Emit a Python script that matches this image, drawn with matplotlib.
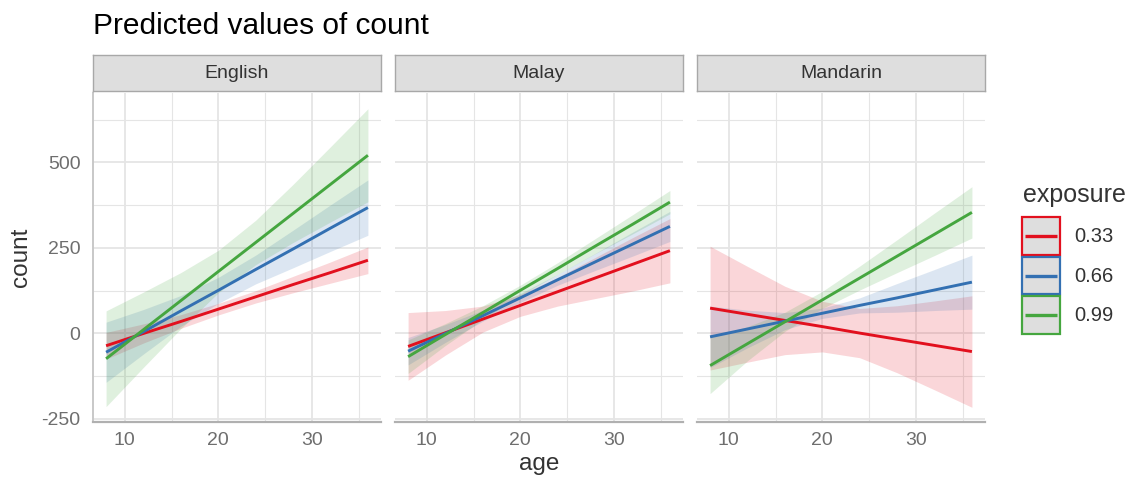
import numpy as np
import matplotlib.pyplot as plt
from matplotlib.lines import Line2D
from matplotlib.patches import Rectangle
from matplotlib.ticker import MultipleLocator

plt.rcParams['font.family'] = ['Liberation Sans', 'DejaVu Sans']
plt.rcParams['axes.unicode_minus'] = False

# ---- data ----
ages = [8, 12, 16, 20, 24, 28, 32, 36]
languages = ["English", "Malay", "Mandarin"]
exposure_levels = ["0.33", "0.66", "0.99"]
colors = ["#E2101E", "#3370B2", "#45A63F"]

# predicted counts (rows: exposure 0.33 / 0.66 / 0.99) and CI half-widths
english_pred = [
    [-36, 0, 35, 71, 107, 143, 178, 214],
    [-55, 5, 66, 126, 187, 247, 308, 368],
    [-74, 11, 96, 181, 266, 351, 436, 521],
]
english_ci = [
    [39, 28, 20, 17, 18, 24, 31, 39],
    [88, 65, 45, 38, 42, 55, 68, 81],
    [140, 110, 82, 62, 65, 85, 110, 136],
]
malay_pred = [
    [-38, 2, 42, 82, 122, 162, 202, 242],
    [-52, 0, 52, 104, 157, 209, 261, 313],
    [-68, -3, 61, 126, 190, 255, 319, 384],
]
malay_ci = [
    [99, 65, 38, 32, 42, 60, 78, 94],
    [40, 26, 16, 13, 16, 25, 35, 44],
    [49, 32, 20, 15, 17, 22, 28, 34],
]
mandarin_pred = [
    [74, 56, 38, 20, 1, -17, -35, -53],
    [-10, 13, 36, 59, 82, 104, 127, 150],
    [-94, -30, 34, 98, 162, 226, 290, 354],
]
mandarin_ci = [
    [181, 140, 100, 74, 72, 98, 130, 163],
    [90, 55, 25, 15, 22, 42, 60, 79],
    [82, 50, 28, 25, 35, 48, 62, 75],
]

preds = [english_pred, malay_pred, mandarin_pred]
cis = [english_ci, malay_ci, mandarin_ci]


class BoxedLineHandler:
    """Legend key: grey box with a coloured border and a short line inside."""

    def legend_artist(self, legend, orig_handle, fontsize, handlebox):
        x0, y0 = -handlebox.xdescent, -handlebox.ydescent
        w, h = handlebox.width, handlebox.height
        c = orig_handle.get_color()
        box = Rectangle((x0, y0), w, h, facecolor="#DEDEDE", edgecolor=c,
                        lw=1.6, transform=handlebox.get_transform())
        line = Line2D([x0 + 0.09 * w, x0 + 0.91 * w], [y0 + h / 2, y0 + h / 2],
                      color=c, lw=2.4, solid_capstyle="butt",
                      transform=handlebox.get_transform())
        handlebox.add_artist(box)
        handlebox.add_artist(line)
        return box


# ---- layout ----
fig = plt.figure(figsize=(11.3, 4.83), dpi=100)
lefts = [93 / 1130, 395 / 1130, 697 / 1130]
width = 288 / 1130
bottom = 1 - 422 / 483
height = (422 - 92.7) / 483
strip_bottom = 1 - 91 / 483
strip_height = 36 / 483

grid_col = "#E5E5E5"
tick_col = "#6E6E6E"
text_col = "#333333"

for i, lang in enumerate(languages):
    ax = fig.add_axes([lefts[i], bottom, width, height])
    x = np.array(ages)
    for j in range(3):
        y = np.array(preds[i][j])
        h = np.array(cis[i][j])
        ax.fill_between(x, y - h, y + h, color=colors[j], alpha=0.17,
                        linewidth=0, zorder=2)
    for j in range(3):
        ax.plot(ages, preds[i][j], color=colors[j], lw=2.1, zorder=3,
                solid_capstyle="butt")

    ax.set_xlim(6.6, 37.4)
    ax.set_ylim(-259, 704)
    ax.xaxis.set_minor_locator(MultipleLocator(5))
    ax.yaxis.set_major_locator(MultipleLocator(250))
    ax.yaxis.set_minor_locator(MultipleLocator(125))
    ax.set_xticks([10, 20, 30])
    ax.grid(which="major", color=grid_col, lw=1.3, zorder=0)
    ax.grid(which="minor", color=grid_col, lw=0.8, zorder=0)
    ax.set_axisbelow(True)
    ax.tick_params(which="both", length=0, labelsize=14, colors=tick_col)
    ax.tick_params(axis="y", pad=9)
    ax.tick_params(axis="x", pad=7)
    for s in ["top", "right"]:
        ax.spines[s].set_visible(False)
    ax.spines["bottom"].set_color("#B0B0B0")
    ax.spines["bottom"].set_linewidth(1.6)
    if i == 0:
        ax.spines["left"].set_color("#C8C8C8")
        ax.spines["left"].set_linewidth(1.4)
        ax.set_ylabel("count", fontsize=17.5, color=text_col, labelpad=7)
    else:
        ax.spines["left"].set_visible(False)
        ax.set_yticklabels([])
    if i == 1:
        ax.set_xlabel("age", fontsize=17.5, color=text_col, labelpad=3)

    # facet strip
    sax = fig.add_axes([lefts[i], strip_bottom, width, strip_height])
    sax.set_facecolor("#DEDEDE")
    sax.set_xticks([])
    sax.set_yticks([])
    for s in sax.spines.values():
        s.set_color("#A8A8A8")
        s.set_linewidth(1.0)
    sax.text(0.5, 0.5, lang, ha="center", va="center", fontsize=14,
             color=text_col, transform=sax.transAxes)

fig.text(93 / 1130, 1 - 26 / 483, "Predicted values of count", fontsize=21.5,
         ha="left", va="center", color="black")

# legend with boxed keys; title placed separately for extra spacing
fig.text(1023 / 1130, 1 - 195 / 483, "exposure", fontsize=18,
         ha="left", va="center", color=text_col)
handles = [Line2D([0], [0], color=c) for c in colors]
leg = fig.legend(handles, exposure_levels,
                 loc="upper left", bbox_to_anchor=(1022 / 1130, 1 - 217 / 483),
                 frameon=False, fontsize=14.5,
                 handlelength=1.9, handleheight=2.5, labelspacing=0.1,
                 handletextpad=0.7, borderpad=0, borderaxespad=0,
                 handler_map={Line2D: BoxedLineHandler()})
for t in leg.get_texts():
    t.set_color(text_col)

fig.savefig("out.png", dpi=100)
